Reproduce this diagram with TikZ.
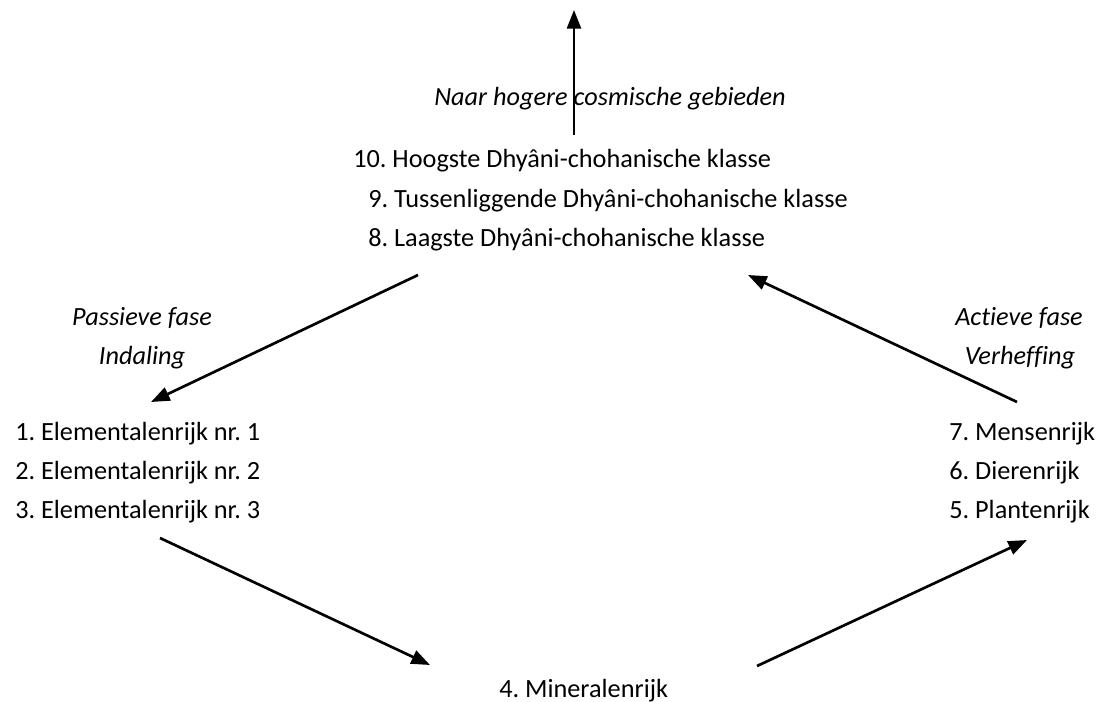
\documentclass[tikz,border=0pt]{standalone}
\usepackage{fontspec}
\setmainfont{Carlito}[Ligatures=NoCommon]
\frenchspacing
\usetikzlibrary{arrows.meta}
\tikzset{
  rijk/.style={anchor=base west, inner sep=0pt, font=\fontsize{19.7}{24}\selectfont},
  fase/.style={anchor=base, inner sep=0pt, font=\fontsize{19.7}{24}\selectfont\itshape},
  pijl/.style={-{Triangle[length=14pt,width=10.5pt]}, line width=2pt}
}
\begin{document}
\begin{tikzpicture}[x=0.75pt,y=-0.75pt]
\useasboundingbox (0,0) rectangle (1098,702);
% klassen boven
\node[fase] (hoger) at (610,106) {Naar hogere cosmische gebieden};
\node[rijk] (k10) at (353,168) {10. Hoogste Dhyâni-chohanische klasse};
\node[rijk] (k9) at (368,208) {9. Tussenliggende Dhyâni-chohanische klasse};
\node[rijk] (k8) at (368,247) {8. Laagste Dhyâni-chohanische klasse};
% links
\node[fase] (passief) at (142,325) {Passieve fase};
\node[fase] (indaling) at (142,364) {Indaling};
\node[rijk] (r1) at (15,440) {1. Elementalenrijk nr. 1};
\node[rijk] (r2) at (15,479) {2. Elementalenrijk nr. 2};
\node[rijk] (r3) at (15,518) {3. Elementalenrijk nr. 3};
% rechts
\node[fase] (actief) at (1019,325) {Actieve fase};
\node[fase] (verheffing) at (1020,364) {Verheffing};
\node[rijk] (r7) at (949,440) {7. Mensenrijk};
\node[rijk] (r6) at (949,479) {6. Dierenrijk};
\node[rijk] (r5) at (949,518) {5. Plantenrijk};
% onder
\node[rijk] (r4) at (499,697) {4. Mineralenrijk};
% eindpunten van de pijlen
\coordinate (top) at (574,10);
\coordinate (topvoet) at (574,135);
\coordinate (lb) at (418,275);
\coordinate (lo) at (151,402);
\coordinate (la) at (160,538);
\coordinate (mo) at (430,665);
\coordinate (mr) at (757,666);
\coordinate (ro) at (1027,540);
\coordinate (rb) at (1017,402);
\coordinate (bo) at (748,275);
\draw[pijl] (topvoet) -- (top);
\draw[pijl] (lb) -- (lo);
\draw[pijl] (la) -- (mo);
\draw[pijl] (mr) -- (ro);
\draw[pijl] (rb) -- (bo);
\end{tikzpicture}
\end{document}
